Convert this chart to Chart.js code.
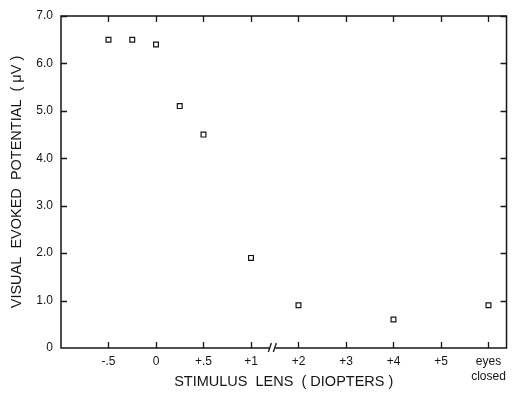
<!DOCTYPE html>
<html>
<head>
	<meta charset="utf-8">
	<script type="text/javascript" src="https://cdn.jsdelivr.net/npm/chart.js@4/dist/chart.umd.min.js"></script>
	<style type="text/css">
	html, body{
		margin: 0;
		padding: 0;
		background: #ffffff;
	}
	#holder{
		width: 512px;
		height: 398px;
	}
	</style>
</head>
<body>
	<div id="holder"><canvas id="chart-area" width="512" height="398"></canvas></div>

	<script>

	// stimulus lens (diopters) and the response
	var stimulus = [-0.5, -0.25, 0, 0.25, 0.5, 1, 2, 4, 'eyes closed'];
	var vepMicrovolts = [6.5, 6.5, 6.4, 5.1, 4.5, 1.9, 0.9, 0.6, 0.9];

	var tickLabels = ['-.5', '0', '+.5', '+1', '+2', '+3', '+4', '+5', ['eyes', 'closed']];
	var yTickLabels = ['0', '1.0', '2.0', '3.0', '4.0', '5.0', '6.0', '7.0'];

	var ink = '#151515';
	var fontFamily = '"Liberation Sans", Arial, Helvetica, sans-serif';

	// broken axis: 0.5 D per division up to +1, then 1 D per division
	function axisPos(d) {
		if (d === 'eyes closed') return 8;
		return d <= 1 ? (d + 0.5) * 2 : d + 2;
	}

	var points = [];
	for (var i = 0; i < stimulus.length; i++) {
		points.push({x: axisPos(stimulus[i]), y: vepMicrovolts[i]});
	}

	var framePlugin = {
		id: 'frame',
		beforeDraw: function(chart) {
			var ctx = chart.ctx;
			ctx.save();
			ctx.fillStyle = '#ffffff';
			ctx.fillRect(0, 0, chart.width, chart.height);
			ctx.restore();
		},
		afterDraw: function(chart) {
			var ctx = chart.ctx;
			var a = chart.chartArea;
			var xs = chart.scales.x, ys = chart.scales.y;
			var t = 6;
			ctx.save();
			ctx.strokeStyle = ink;
			ctx.lineWidth = 1.5;
			ctx.strokeRect(a.left, a.top, a.right - a.left, a.bottom - a.top);
			ctx.lineWidth = 1.3;
			ctx.beginPath();
			for (var k = 0; k < tickLabels.length; k++) {
				var px = Math.round(xs.getPixelForValue(k)) + 0.5;
				ctx.moveTo(px, a.bottom);
				ctx.lineTo(px, a.bottom - t);
				ctx.moveTo(px, a.top);
				ctx.lineTo(px, a.top + t);
			}
			for (var v = 1; v < yTickLabels.length; v++) {
				var py = Math.round(ys.getPixelForValue(v)) + 0.5;
				ctx.moveTo(a.left, py);
				ctx.lineTo(a.left + t, py);
				ctx.moveTo(a.right, py);
				ctx.lineTo(a.right - t, py);
			}
			ctx.stroke();
			// axis break between +1 and +2
			var bx = xs.getPixelForValue(3.45);
			ctx.fillStyle = '#ffffff';
			ctx.fillRect(bx - 3, a.bottom - 2, 6, 4);
			ctx.beginPath();
			ctx.moveTo(bx - 4, a.bottom + 4);
			ctx.lineTo(bx - 1, a.bottom - 5);
			ctx.moveTo(bx + 1, a.bottom + 4);
			ctx.lineTo(bx + 4, a.bottom - 5);
			ctx.stroke();
			ctx.restore();
		}
	};

	var config = {
		type: 'scatter',
		data: {
			datasets: [{
				data: points,
				pointStyle: 'rect',
				pointRadius: 3.4,
				pointHoverRadius: 3.4,
				borderColor: ink,
				borderWidth: 1.2,
				backgroundColor: '#ffffff'
			}]
		},
		plugins: [framePlugin],
		options: {
			responsive: false,
			animation: false,
			layout: {
				padding: {left: 0, right: 4, top: 16, bottom: 0}
			},
			plugins: {
				legend: {display: false},
				tooltip: {enabled: false}
			},
			scales: {
				x: {
					type: 'linear',
					min: -1,
					max: 8.38,
					grid: {display: false, drawTicks: false},
					border: {display: false},
					afterBuildTicks: function(scale) {
						scale.ticks = tickLabels.map(function(l, k) { return {value: k}; });
					},
					afterFit: function(scale) { scale.height = 50; },
					ticks: {
						color: ink,
						padding: 6,
						maxRotation: 0,
						autoSkip: false,
						font: {family: fontFamily, size: 12, lineHeight: 1.25},
						callback: function(value, index) { return tickLabels[index]; }
					},
					title: {
						display: true,
						text: 'STIMULUS  LENS  ( DIOPTERS )',
						color: ink,
						padding: {top: 0, bottom: 7},
						font: {family: fontFamily, size: 14.5}
					}
				},
				y: {
					min: 0,
					max: 7,
					grid: {display: false, drawTicks: false},
					border: {display: false},
					afterFit: function(scale) { scale.width = 61; },
					ticks: {
						stepSize: 1,
						color: ink,
						padding: 8,
						font: {family: fontFamily, size: 12},
						callback: function(value) { return yTickLabels[value]; }
					},
					title: {
						display: true,
						text: 'VISUAL  EVOKED  POTENTIAL  ( \u03bcV )',
						color: ink,
						padding: {top: 8, bottom: 0},
						font: {family: fontFamily, size: 14.5}
					}
				}
			}
		}
	};

	window.onload = function() {
		var ctx = document.getElementById('chart-area').getContext('2d');
		new Chart(ctx, config);
	};

	</script>
</body>
</html>
